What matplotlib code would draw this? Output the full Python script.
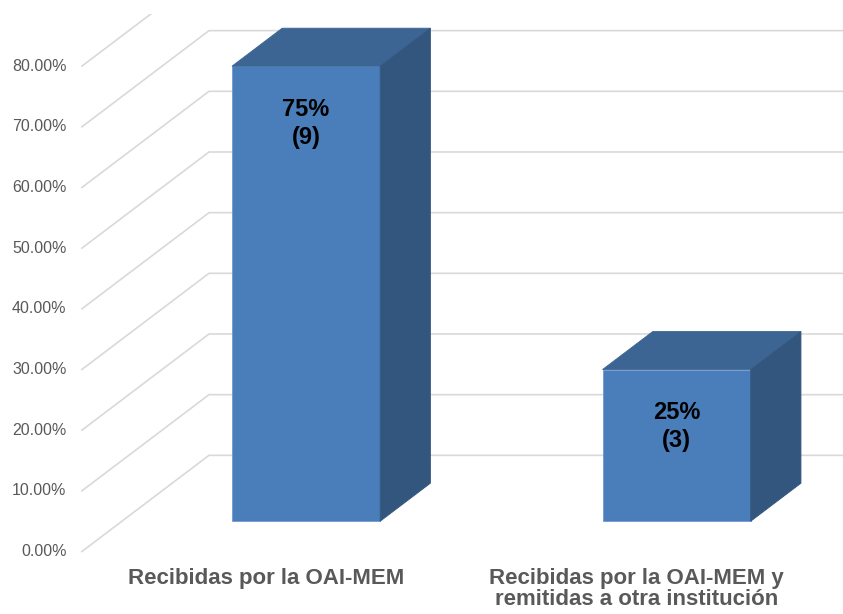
import matplotlib.pyplot as plt
from matplotlib.patches import Polygon, Rectangle


# =========================
# Data
# =========================

categories = [
    "Recibidas por la OAI-MEM",
    "Recibidas por la OAI-MEM y\nremitidas a otra institución"
]

percent = [75, 25]

count = [9, 3]

ticks = [0, 10, 20, 30, 40, 50, 60, 70, 80]


# =========================
# Fake 3D (oblique projection)
# =========================

# shift for the full wall depth (x in category units, y in percent)
depth_dx = 0.343
depth_dy = 15.85

bar_width = 0.4
bar_front = 0.315
bar_back = 0.71

wall_x = -0.497
top_clip = 88.6

grid_color = "#d9d9d9"
text_gray = "#595959"

face_front = "#4a7ebb"
face_top = "#3d6593"
face_side = "#33567f"


def proj(x, y, d):
    return (x + d * depth_dx, y + d * depth_dy)


plt.rcParams["font.family"] = ["Liberation Sans", "DejaVu Sans"]


# =========================
# Figure
# =========================

fig = plt.figure(
    figsize=(8.43, 6.14),
    dpi=100
)

ax = fig.add_axes([0, 0, 1, 1])

ax.set_xlim(-0.718, 1.557)
ax.set_ylim(-10.3, 90.9)
ax.axis("off")


clip = Rectangle(
    (-2, -20),
    6,
    top_clip + 20,
    transform=ax.transData
)


# =========================
# Walls / gridlines
# =========================

for t in ticks:

    p0 = proj(wall_x, t, 0)
    p1 = proj(wall_x, t, 1)

    line, = ax.plot(
        [p0[0], p1[0], 3],
        [p0[1], p1[1], p1[1]],
        color=grid_color,
        lw=1.2,
        zorder=1
    )
    line.set_clip_path(clip)

    ax.annotate(
        f"{t:.2f}%",
        xy=p0,
        xytext=(-11, 0),
        textcoords="offset points",
        ha="right",
        va="center",
        fontsize=11.5,
        color=text_gray
    )


# =========================
# Bars
# =========================

for i, v in enumerate(percent):

    x0 = i - bar_width / 2
    x1 = i + bar_width / 2

    front = [
        proj(x0, 0, bar_front),
        proj(x1, 0, bar_front),
        proj(x1, v, bar_front),
        proj(x0, v, bar_front)
    ]

    top = [
        proj(x0, v, bar_front),
        proj(x1, v, bar_front),
        proj(x1, v, bar_back),
        proj(x0, v, bar_back)
    ]

    side = [
        proj(x1, 0, bar_front),
        proj(x1, 0, bar_back),
        proj(x1, v, bar_back),
        proj(x1, v, bar_front)
    ]

    ax.add_patch(Polygon(front, closed=True, facecolor=face_front,
                         edgecolor="#6f9ad0", lw=0.6, zorder=3))
    ax.add_patch(Polygon(top, closed=True, facecolor=face_top,
                         edgecolor=face_top, lw=0.6, zorder=3))
    ax.add_patch(Polygon(side, closed=True, facecolor=face_side,
                         edgecolor=face_side, lw=0.6, zorder=3))

    ax.annotate(
        f"{v}%\n({count[i]})",
        xy=proj(i, v, bar_front),
        xytext=(0, -23),
        textcoords="offset points",
        ha="center",
        va="top",
        fontsize=17,
        fontweight="bold",
        color="black",
        linespacing=1.25,
        zorder=5
    )


# =========================
# Category labels
# =========================

for i, name in enumerate(categories):

    ax.annotate(
        name,
        xy=(i, 0),
        xytext=(0, -12),
        textcoords="offset points",
        ha="center",
        va="top",
        fontsize=16,
        fontweight="bold",
        color=text_gray,
        linespacing=0.98
    )


fig.savefig("out.png", dpi=100)
